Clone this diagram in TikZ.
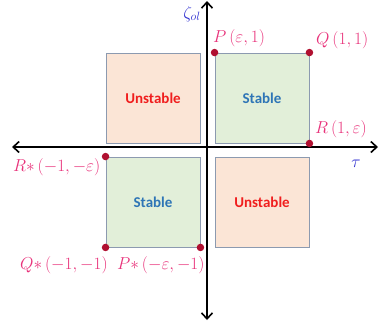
\documentclass[tikz,border=0pt]{standalone}
\usepackage{fontspec}
\newfontfamily\boxfont{Carlito}
\usetikzlibrary{arrows.meta}
\definecolor{stfill}{HTML}{E2EFD9}
\definecolor{unfill}{HTML}{FBE5D6}
\definecolor{bord}{HTML}{8C9AB0}
\definecolor{sttext}{HTML}{2E75B6}
\definecolor{untext}{HTML}{F01E1E}
\definecolor{lab}{HTML}{E8327A}
\definecolor{dotc}{HTML}{B01030}
\definecolor{axlab}{HTML}{3030D0}
\newcommand{\tallp}{\vphantom{\rule[-4pt]{0pt}{17pt}}}
\tikzset{
  region/.style={draw=bord, line width=0.9pt, minimum width=94pt, minimum height=90pt, inner sep=0pt, font=\boxfont\bfseries\fontsize{15}{17}\selectfont},
  stab/.style={region, fill=stfill, text=sttext},
  unst/.style={region, fill=unfill, text=untext},
  axis/.style={line width=1.6pt, -{Straight Barb[length=6pt,width=11pt,line width=1.6pt]}},
  pt/.style={circle, fill=dotc, inner sep=0pt, minimum size=7.5pt},
  lbl/.style={text=lab, font=\fontsize{16.5}{18}\selectfont, inner sep=0pt}
}
\begin{document}
\begin{tikzpicture}[x=1pt,y=-1pt]
\useasboundingbox (0,0) rectangle (380,322);
\node[unst] (ul) at (153,98) {Unstable};
\node[stab] (ur) at (262,98) {Stable};
\node[stab] (ll) at (153,202) {Stable};
\node[unst] (lr) at (262,202) {Unstable};
\coordinate (xl) at (12,147);
\coordinate (xr) at (378,147);
\coordinate (yt) at (207,1);
\coordinate (yb) at (207,320);
\coordinate (o) at (207,147);
\draw[axis] (o) -- (xl);
\draw[axis] (o) -- (xr);
\draw[axis] (o) -- (yt);
\draw[axis] (o) -- (yb);
\node[pt] (P) at (ur.north west) {};
\node[pt] (Q) at (ur.north east) {};
\node[pt] (R) at (ur.south east) {};
\node[pt] (Rs) at (ll.north west) {};
\node[pt] (Qs) at (ll.south west) {};
\node[pt] (Ps) at (ll.south east) {};
\node[lbl, anchor=west] (Pl) at (213,38) {$P\left(\varepsilon,1\tallp\right)$};
\node[lbl, anchor=west] (Ql) at (316,40) {$Q\left(1,1\tallp\right)$};
\node[lbl, anchor=west] (Rl) at (315,129) {$R\left(1,\varepsilon\tallp\right)$};
\node[lbl, anchor=west] (Rsl) at (13,167) {$R{*}\left(-1,-\varepsilon\tallp\right)$};
\node[lbl, anchor=west] (Qsl) at (20,265) {$Q{*}\left(-1,-1\tallp\right)$};
\node[lbl, anchor=west] (Psl) at (117,265) {$P{*}\left(-\varepsilon,-1\tallp\right)$};
\node[text=axlab, font=\fontsize{17}{19}\selectfont] (zl) at (192,14) {$\zeta_{ol}$};
\node[text=axlab, font=\fontsize{17}{19}\selectfont] (tl) at (356,164) {$\tau$};
\end{tikzpicture}
\end{document}
